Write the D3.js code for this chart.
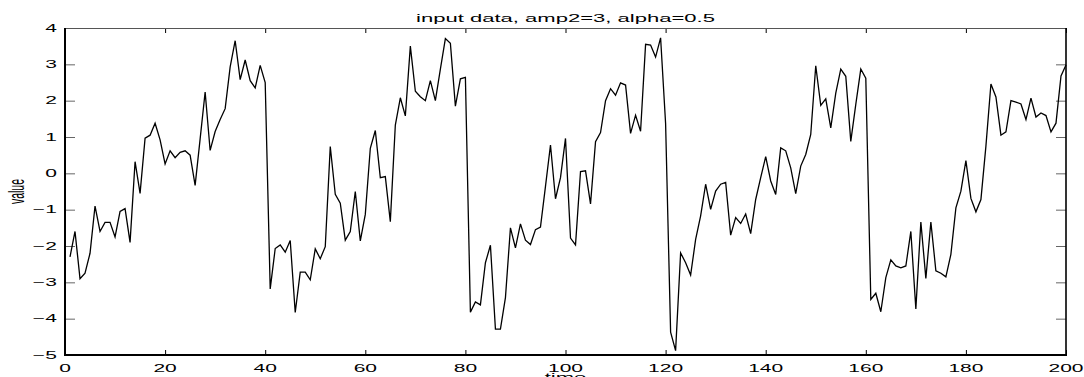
<!DOCTYPE html>
<html>
<head>
<meta charset="utf-8">
<script src="https://cdn.jsdelivr.net/npm/d3@7"></script>
<style>
  body { margin: 0; background: #fff; }
  svg { display: block; }
  text { font-family: "Liberation Sans", Arial, Helvetica, sans-serif; fill: #000; }
</style>
</head>
<body>
<script>
// chart text
const title = "input data, amp2=3, alpha=0.5";
const xLabel = "time";
const yLabel = "value";

// axis ticks
const xTicks = [0, 20, 40, 60, 80, 100, 120, 140, 160, 180, 200];
const yTicks = [-5, -4, -3, -2, -1, 0, 1, 2, 3, 4];

// series: time steps 1..200 and the values
const timeSteps = d3.range(1, 201);
const values = [
  -2.3, -1.6, -2.9, -2.75, -2.2, -0.9, -1.6, -1.35, -1.35, -1.75,
  -1.05, -0.97, -1.9, 0.32, -0.55, 0.97, 1.05, 1.38, 0.92, 0.26,
  0.62, 0.43, 0.58, 0.62, 0.5, -0.33, 0.95, 2.24, 0.63, 1.15,
  1.48, 1.78, 2.93, 3.65, 2.58, 3.12, 2.55, 2.35, 2.97, 2.5,
  -3.18, -2.07, -1.97, -2.17, -1.85, -3.83, -2.72, -2.72, -2.93, -2.08,
  -2.35, -2.02, 0.74, -0.58, -0.82, -1.84, -1.6, -0.5, -1.86, -1.13,
  0.69, 1.18, -0.12, -0.09, -1.33, 1.33, 2.08, 1.58, 3.5, 2.26,
  2.11, 2.0, 2.55, 2.0, 2.87, 3.71, 3.58, 1.85, 2.6, 2.64,
  -3.82, -3.54, -3.62, -2.46, -1.98, -4.29, -4.29, -3.42, -1.5, -2.05,
  -1.39, -1.84, -1.96, -1.55, -1.48, -0.36, 0.78, -0.7, -0.12, 0.96,
  -1.78, -1.97, 0.05, 0.07, -0.84, 0.87, 1.12, 2.0, 2.33, 2.15,
  2.49, 2.43, 1.1, 1.6, 1.16, 3.55, 3.53, 3.2, 3.73, 1.37,
  -4.37, -4.88, -2.19, -2.46, -2.8, -1.82, -1.17, -0.3, -0.99, -0.49,
  -0.3, -0.25, -1.7, -1.22, -1.38, -1.12, -1.66, -0.72, -0.12, 0.46,
  -0.21, -0.58, 0.7, 0.62, 0.15, -0.56, 0.2, 0.52, 1.07, 2.96,
  1.87, 2.05, 1.25, 2.21, 2.87, 2.67, 0.88, 1.9, 2.87, 2.62,
  -3.47, -3.3, -3.81, -2.87, -2.38, -2.55, -2.6, -2.55, -1.6, -3.73,
  -1.34, -2.89, -1.34, -2.68, -2.75, -2.85, -2.23, -0.95, -0.49, 0.35,
  -0.69, -1.06, -0.72, 0.75, 2.46, 2.1, 1.05, 1.14, 2.0, 1.96,
  1.91, 1.48, 2.07, 1.55, 1.66, 1.59, 1.14, 1.38, 2.68, 2.98
];

const width = 1084, height = 377;
const margin = { top: 28, right: 18, bottom: 22, left: 65 };
const innerW = width - margin.left - margin.right;
const innerH = height - margin.top - margin.bottom;

// the source figure is stretched sideways, so its text is too
const sx = 2.1;
const fontSize = 10;

const svg = d3.select("body").append("svg")
  .attr("width", width)
  .attr("height", height);

const xScale = d3.scaleLinear().domain([0, 200]).range([0, innerW]);
const yScale = d3.scaleLinear().domain([-5, 4]).range([innerH, 0]);

const g = svg.append("g")
  .attr("transform", "translate(" + margin.left + "," + margin.top + ")");

// ticks, all pointing inwards
const axBottom = g.append("g")
  .attr("transform", "translate(0," + innerH + ")")
  .call(d3.axisBottom(xScale).tickValues(xTicks).tickSizeInner(-5).tickSizeOuter(0).tickFormat(""));
const axTop = g.append("g")
  .call(d3.axisTop(xScale).tickValues(xTicks).tickSizeInner(-5).tickSizeOuter(0).tickFormat(""));
const axLeft = g.append("g")
  .call(d3.axisLeft(yScale).tickValues(yTicks).tickSizeInner(-10).tickSizeOuter(0).tickFormat(""));
const axRight = g.append("g")
  .attr("transform", "translate(" + innerW + ",0)")
  .call(d3.axisRight(yScale).tickValues(yTicks).tickSizeInner(-10).tickSizeOuter(0).tickFormat(""));

[axBottom, axTop, axLeft, axRight].forEach(a => {
  a.select(".domain").remove();
  a.selectAll(".tick line").attr("stroke", "#000").attr("stroke-width", 1);
});
[axLeft, axRight].forEach(a => a.selectAll(".tick line").attr("stroke", "#666"));

// tick labels, stretched like the original
g.selectAll(".xlab")
  .data(xTicks)
  .join("text")
  .attr("class", "xlab")
  .attr("transform", d => "translate(" + xScale(d) + "," + (innerH + 17) + ") scale(" + sx + ",1)")
  .attr("text-anchor", "middle")
  .attr("font-size", fontSize)
  .text(d => d);

g.selectAll(".ylab")
  .data(yTicks)
  .join("text")
  .attr("class", "ylab")
  .attr("transform", d => "translate(-8," + (yScale(d) + 3.6) + ") scale(" + sx + ",1)")
  .attr("text-anchor", "end")
  .attr("font-size", fontSize)
  .text(d => d < 0 ? "\u2212" + Math.abs(d) : d);

// frame: thin on top, heavier elsewhere
g.append("line")
  .attr("x1", 0).attr("x2", innerW).attr("y1", 0.5).attr("y2", 0.5)
  .attr("stroke", "#555").attr("stroke-width", 1);
g.append("line")
  .attr("x1", 0).attr("x2", 0).attr("y1", 0).attr("y2", innerH)
  .attr("stroke", "#000").attr("stroke-width", 2);
g.append("line")
  .attr("x1", innerW).attr("x2", innerW).attr("y1", 0).attr("y2", innerH)
  .attr("stroke", "#000").attr("stroke-width", 1.6);
g.append("line")
  .attr("x1", -1).attr("x2", innerW + 1).attr("y1", innerH).attr("y2", innerH)
  .attr("stroke", "#000").attr("stroke-width", 2);

// the series
const line = d3.line()
  .x((d, i) => xScale(timeSteps[i]))
  .y(d => yScale(d));

g.append("path")
  .datum(values)
  .attr("fill", "none")
  .attr("stroke", "#000")
  .attr("stroke-width", 1.3)
  .attr("stroke-linejoin", "miter")
  .attr("d", line);

// labels
svg.append("text")
  .attr("transform", "translate(" + (margin.left + innerW / 2) + ",22) scale(" + sx + ",1)")
  .attr("text-anchor", "middle")
  .attr("font-size", fontSize + 0.5)
  .text(title);

svg.append("text")
  .attr("transform", "translate(" + (margin.left + innerW / 2) + ",381) scale(" + sx + ",1)")
  .attr("text-anchor", "middle")
  .attr("font-size", fontSize + 0.5)
  .text(xLabel);

svg.append("text")
  .attr("transform", "translate(24," + (margin.top + innerH / 2) + ") scale(" + sx + ",1) rotate(-90)")
  .attr("text-anchor", "middle")
  .attr("font-size", fontSize + 0.5)
  .text(yLabel);
</script>
</body>
</html>
